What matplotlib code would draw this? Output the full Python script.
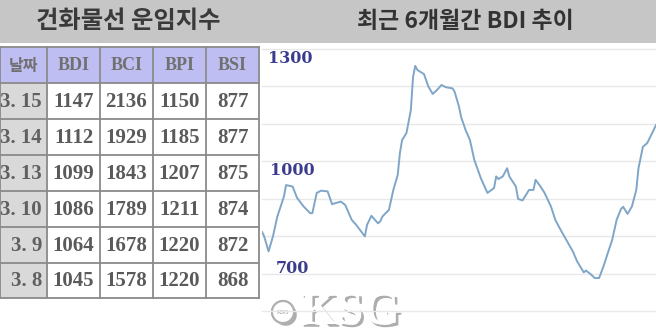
import matplotlib
matplotlib.use("Agg")
import matplotlib.pyplot as plt
import matplotlib.patheffects as pe
from matplotlib.patches import Rectangle, Circle

# table data
dates = ["3. 15", "3. 14", "3. 13", "3. 10", "3. 9", "3. 8"]
bdi = [1147, 1112, 1099, 1086, 1064, 1045]
bci = [2136, 1929, 1843, 1789, 1678, 1578]
bpi = [1150, 1185, 1207, 1211, 1220, 1220]
bsi = [877, 877, 875, 874, 872, 868]
headers = ["날짜", "BDI", "BCI", "BPI", "BSI"]

# BDI trend over the last ~6 months (day offset, index value)
days = [0, 1, 3, 5, 7, 10, 11, 14, 16, 19, 22, 23, 25, 27, 30, 32, 36, 38, 41, 43,
        47, 48, 50, 53, 54, 55, 58, 60, 62, 63, 64, 66, 68, 69, 70, 71, 74, 76, 78, 80,
        82, 84, 87, 88, 90, 91, 93, 95, 97, 100, 102, 103, 106, 107, 108, 110, 112, 113,
        116, 117, 119, 122, 124, 125, 127, 129, 132, 134, 136, 139, 142, 144, 147, 148,
        150, 152, 154, 156, 158, 160, 162, 164, 165, 167, 169, 171, 172, 174, 176, 178, 180]
vals = [812, 800, 760, 800, 853, 906, 937, 933, 903, 880, 862, 862, 916, 922, 920, 886,
        893, 884, 844, 831, 800, 831, 855, 835, 840, 853, 871, 924, 964, 1022, 1057, 1076,
        1137, 1225, 1255, 1244, 1233, 1200, 1180, 1191, 1204, 1198, 1195, 1186, 1146, 1118,
        1084, 1057, 1004, 955, 929, 916, 929, 960, 953, 960, 982, 960, 933, 900, 896, 924,
        924, 951, 935, 917, 880, 844, 822, 791, 760, 733, 704, 709, 700, 689, 689, 720,
        756, 791, 844, 873, 879, 860, 880, 924, 982, 1039, 1049, 1073, 1097]
ylabels = [1300, 1000, 700]

W, H = 656, 335
fig = plt.figure(figsize=(W / 100, H / 100), dpi=100)
fig.patch.set_facecolor("white")

kr = ["Noto Sans CJK KR", "DejaVu Sans"]
serif = ["Liberation Serif", "DejaVu Serif"]

# background axes in pixel units for the title bands and the table
bg = fig.add_axes([0, 0, 1, 1])
bg.set_xlim(0, W)
bg.set_ylim(H, 0)
bg.axis("off")

bg.add_patch(Rectangle((0, 0), W, 43, color="#c6c6c6", lw=0))
bg.text(128, 21, "건화물선 운임지수", ha="center", va="center", fontsize=17.5,
        fontweight="bold", color="#3a3a3a", family=kr)
bg.text(465, 22, "최근 6개월간 BDI 추이", ha="center", va="center", fontsize=16.5,
        fontweight="bold", color="#333333", family=kr)

col_x = [0, 47, 100, 153, 206, 259]
row_y = [47, 83, 119, 155, 191, 227, 263, 298]
border = "#8a8a8a"

bg.add_patch(Rectangle((0, row_y[0]), col_x[-1], row_y[1] - row_y[0], color="#bebef2", lw=0))
bg.add_patch(Rectangle((0, row_y[1]), col_x[1], row_y[-1] - row_y[1], color="#d9d9d9", lw=0))
for x in col_x:
    bg.plot([x, x], [row_y[0], row_y[-1]], color=border, lw=1.3)
for y in row_y:
    bg.plot([0, col_x[-1]], [y, y], color=border, lw=1.3)

for j, h in enumerate(headers):
    cx = (col_x[j] + col_x[j + 1]) / 2
    fam = kr if j == 0 else serif
    bg.text(cx, (row_y[0] + row_y[1]) / 2 + 1, h, ha="center", va="center",
            fontsize=13 if j else 11.5, fontweight="bold", color="#707070", family=fam)

for i in range(len(dates)):
    cy = (row_y[i + 1] + row_y[i + 2]) / 2 + 1
    bg.text(42, cy, dates[i], ha="right", va="center", fontsize=15,
            fontweight="bold", color="#606060", family=serif)
    for j, col in enumerate([bdi, bci, bpi, bsi]):
        cx = (col_x[j + 1] + col_x[j + 2]) / 2
        bg.text(cx, cy, str(col[i]), ha="center", va="center", fontsize=15,
                fontweight="bold", color="#5a5a5a", family=serif)

# KSG watermark
shadow = [pe.withSimplePatchShadow(offset=(2, -2), shadow_rgbFace="#8a8a8a", alpha=0.7),
          pe.Normal()]
bg.add_patch(Circle((283, 312), 11, facecolor="white", edgecolor="#b0b0b0", lw=1.5,
                    path_effects=shadow))
bg.text(283, 312, "KSG", ha="center", va="center", fontsize=4.5, color="#999999",
        family=serif)
bg.text(350, 313, "KSG", ha="center", va="center", fontsize=34, fontweight="bold",
        color="white", family=serif, path_effects=shadow)

# BDI line chart
ax = fig.add_axes([262 / W, 0, 1 - 262 / W, 292 / H])
ax.set_xlim(0, 180)
ax.set_ylim(537, 1316)
ax.axis("off")
for v in range(600, 1400, 100):
    ax.axhline(v, color="#e8e8e8", lw=1, zorder=1)
ax.plot(days, vals, color="#7fa6c8", lw=1.4, zorder=3)

offs = {1300: (4, -6.5), 1000: (6, -6.5), 700: (10, 3.6)}
for v in ylabels:
    ax.annotate(str(v), xy=(0, v), xytext=offs[v], textcoords="offset points",
                ha="left", va="center", fontsize=11.5, fontweight="bold",
                color="#3c3c8e", family=["DejaVu Serif"])

fig.savefig("out.png", dpi=100)
